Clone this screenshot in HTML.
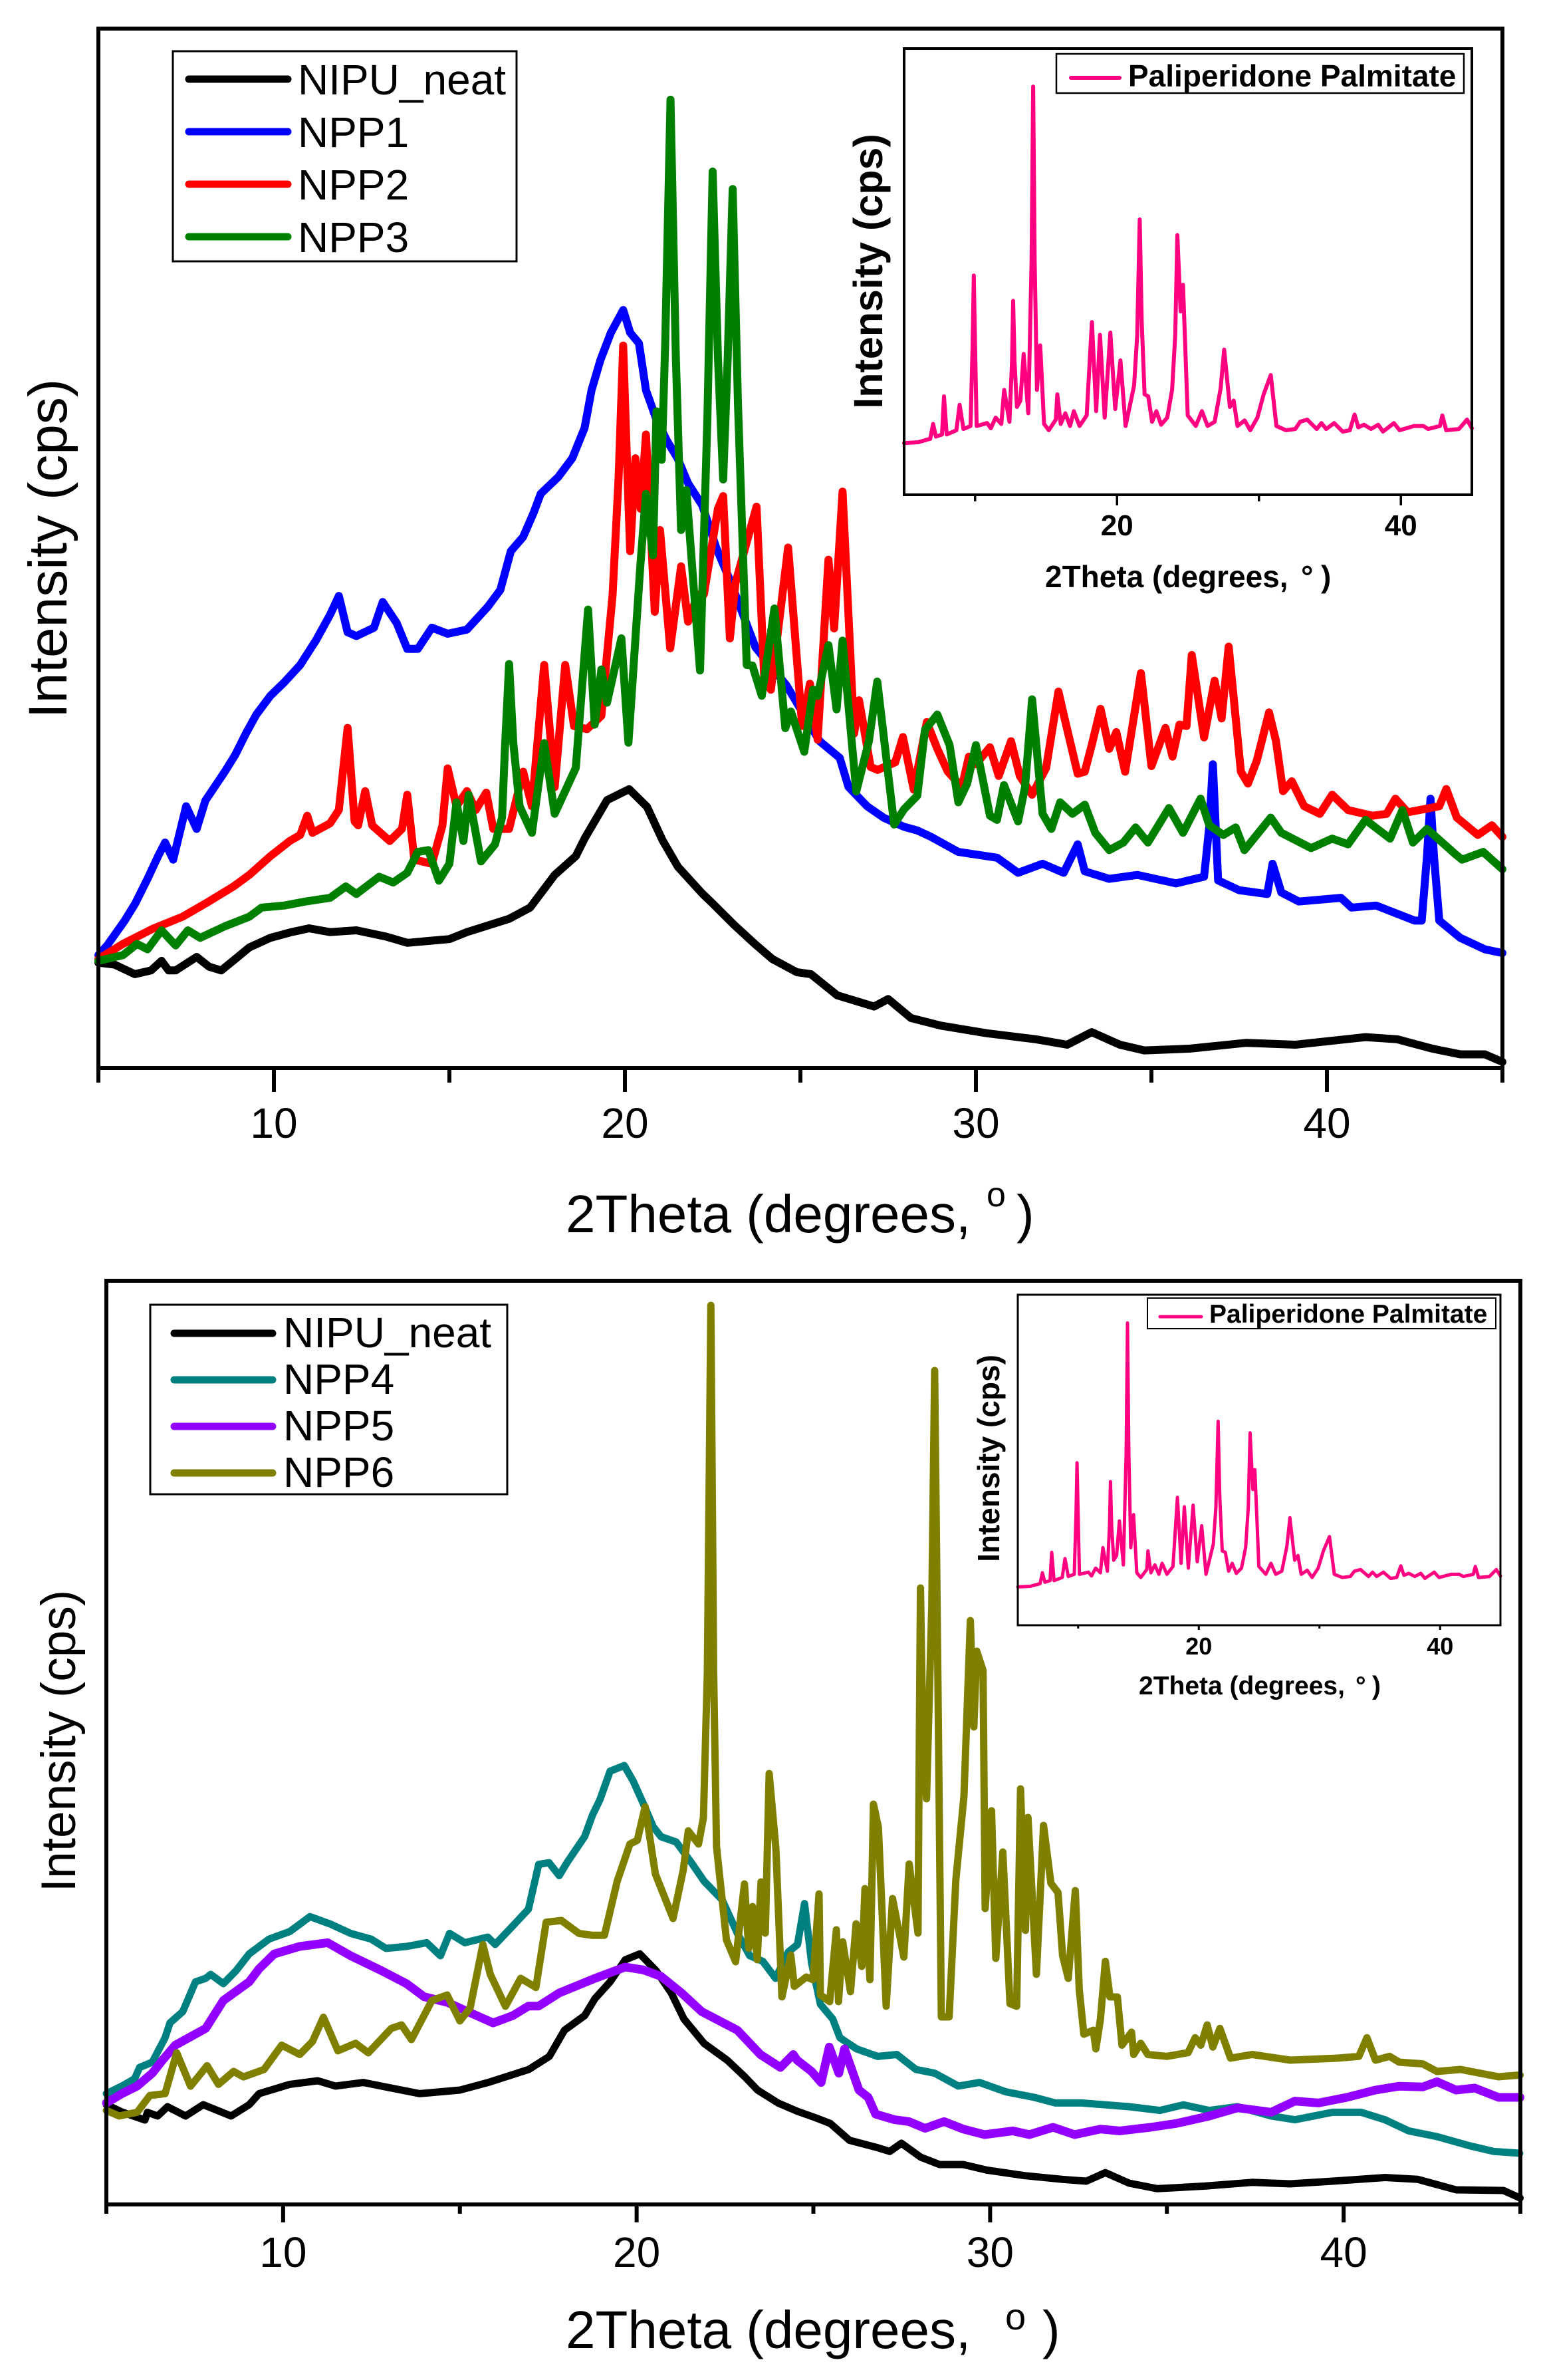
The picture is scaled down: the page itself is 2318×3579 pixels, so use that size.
<!DOCTYPE html>
<html lang="en">
<head>
<meta charset="utf-8">
<title>XRD patterns of NIPU composites</title>
<style>
html,body{margin:0;padding:0;background:#fff;width:2318px;height:3579px;overflow:hidden}
svg{display:block}
text{font-family:"Liberation Sans",sans-serif;fill:#000}
.b{font-weight:bold}
</style>
</head>
<body>
<svg id="fig" xmlns="http://www.w3.org/2000/svg" width="2318" height="3579" viewBox="0 0 2318 3579">
  <rect x="0" y="0" width="2318" height="3579" fill="#fff"/>
  <g id="top-panel"></g>
  <g id="bottom-panel"></g>

  <text transform="translate(100,825) rotate(-90)" text-anchor="middle" font-size="82">Intensity (cps)</text>
  <text x="851" y="1853" font-size="80">2Theta (degrees,<tspan x="1484" y="1814" font-size="52">o</tspan><tspan x="1529" y="1853">)</tspan></text>

  <g>
    <rect x="260" y="77" width="517" height="316" fill="#fff" stroke="#000" stroke-width="3"/>
    <line x1="284" x2="433" y1="119" y2="119" stroke="#000" stroke-width="11" stroke-linecap="round"/>
    <text x="448" y="142" font-size="64">NIPU_neat</text>
    <line x1="284" x2="433" y1="198" y2="198" stroke="#0000ff" stroke-width="11" stroke-linecap="round"/>
    <text x="448" y="221" font-size="64">NPP1</text>
    <line x1="284" x2="433" y1="277" y2="277" stroke="#ff0000" stroke-width="11" stroke-linecap="round"/>
    <text x="448" y="300" font-size="64">NPP2</text>
    <line x1="284" x2="433" y1="356" y2="356" stroke="#008000" stroke-width="11" stroke-linecap="round"/>
    <text x="448" y="379" font-size="64">NPP3</text>
  </g>

  <text class="b" transform="translate(1327,408) rotate(-90)" text-anchor="middle" font-size="61">Intensity (cps)</text>
  <text class="b" x="1572" y="883" font-size="46">2Theta (degrees,<tspan x="1957">°</tspan><tspan x="1987">)</tspan></text>
  <g>
    <rect x="1589" y="81" width="613" height="59" fill="#fff" stroke="#000" stroke-width="2.5"/>
    <line x1="1611" x2="1684" y1="117" y2="117" stroke="#ff0080" stroke-width="6" stroke-linecap="round"/>
    <text class="b" x="1697" y="130" font-size="46">Paliperidone Palmitate</text>
  </g>

  <text transform="translate(113,2618) rotate(-90)" text-anchor="middle" font-size="73">Intensity (cps)</text>
  <text x="851" y="3531" font-size="80">2Theta (degrees,<tspan x="1512" y="3503" font-size="56">o</tspan><tspan x="1568" y="3531">)</tspan></text>

  <g>
    <rect x="226" y="1962" width="537" height="285" fill="#fff" stroke="#000" stroke-width="3"/>
    <line x1="262" x2="410" y1="2005" y2="2005" stroke="#000" stroke-width="11" stroke-linecap="round"/>
    <text x="426" y="2026" font-size="64">NIPU_neat</text>
    <line x1="262" x2="410" y1="2075" y2="2075" stroke="#008080" stroke-width="11" stroke-linecap="round"/>
    <text x="426" y="2096" font-size="64">NPP4</text>
    <line x1="262" x2="410" y1="2145" y2="2145" stroke="#9400ff" stroke-width="11" stroke-linecap="round"/>
    <text x="426" y="2166" font-size="64">NPP5</text>
    <line x1="262" x2="410" y1="2215" y2="2215" stroke="#808000" stroke-width="11" stroke-linecap="round"/>
    <text x="426" y="2236" font-size="64">NPP6</text>
  </g>

  <text class="b" transform="translate(1503,2193) rotate(-90)" text-anchor="middle" font-size="46">Intensity (cps)</text>
  <text class="b" x="1713" y="2548" font-size="39">2Theta (degrees,<tspan x="2039">°</tspan><tspan x="2064">)</tspan></text>
  <g>
    <rect x="1726" y="1952" width="524" height="46" fill="#fff" stroke="#000" stroke-width="2"/>
    <line x1="1745" x2="1807" y1="1980" y2="1980" stroke="#ff0080" stroke-width="5" stroke-linecap="round"/>
    <text class="b" x="1819" y="1989" font-size="39">Paliperidone Palmitate</text>
  </g>
</svg>

<script>
// ---------- shared axis data ----------
const mainMajorTicks = [10, 20, 30, 40];
const mainMinorTicks = [5, 15, 25, 35, 45];
const insetMajorTicks = [20, 40];
const insetMinorTicks = [10, 30];
const mainTickLabels = ['10', '20', '30', '40'];
const insetTickLabels = ['20', '40'];

// ---------- top panel: intensity in arbitrary cps ----------
const topNipuTheta = [5,5.46,6.04,6.5,6.8,7,7.2,7.8,8.15,8.5, 8.9,9.3,9.9,10.5,11,11.6,12.35,13.2,13.8,15, 15.5,16.7,17.3,18,18.6,18.86,19.49,20.12,20.63,21.07, 21.51,22.2,22.5,23.1,23.7,24.2,24.9,25.3,26.05,27.1, 27.5,28.15,29,30.3,31.7,32.6,33.3,34.1,34.8,36.1, 37.7,39.1,41.1,42,43,43.8,44.5,45];
const topNipuValues = [69.6,68.3,62,64.5,70.8,64.5,64.5,73.4,67,64.5, 72,79.7,86,89.8,92.3,89.8,91,86.8,82.7,85.2, 89.8,98.6,106,127.6,140,152,177,184.3,172.6,150.6, 133,115.4,108.7,94.8,82,72,63.3,62,48,40.6, 45.6,33,28,23,19,15.4,23.7,15.4,11.6,12.8, 16.6,15.4,20.4,19,12.8,9,9,4];

const npp1Theta = [5,5.25,5.75,6.05,6.4,6.7,6.9,7.13,7.5,7.8, 8.05,8.6,8.9,9.2,9.5,9.9,10.3,10.75,11.2,11.6, 11.85,12.1,12.35,12.85,13.1,13.5,13.8,14.1,14.5,14.95, 15.5,16.1,16.45,16.75,17.1,17.4,17.6,18.1,18.5,18.85, 19.05,19.3,19.6,19.95,20.15,20.4,20.6,20.9,21.2,21.5, 21.8,22.2,22.6,23,23.72,24.6,25.55,26.12,26.37,26.9, 27.38,27.95,28.33,28.7,29.5,30.6,31.2,31.9,32.5,32.9, 33.1,33.8,34.6,35.7,36.5,36.65,36.75,36.83,36.9,37.5, 38.3,38.45,38.7,39.2,40.4,40.7,41.4,42.5,42.7,42.85, 42.95,43.05,43.2,43.8,44.5,45];
const npp1Values = [74.6,81,97.4,108.7,125,140,149,137.7,173,158, 176.8,195.8,207,221,233.6,246,255,266.4,282.7,299.6, 312,288,285.5,291,308,294,277,277,291,287, 289.8,305,316,341.6,351,367,379.5,390.6,403,423, 448,467.7,486,501,486,479,448,428.5,414.5,403, 386.5,372,344,322,278,253,216,205,185.8,173, 165.3,159.4,157,153,142.8,139,129,135,129,147.8, 130,125,127.6,122,126.4,160,200.8,160,124,117.5, 115,135,116,110,112.5,106,107.4,97.4,97.4,140, 178,140,97.4,86,78.4,76];

const npp2Theta = [5,5.7,6.55,7.4,8.05,8.85,9.3,9.9,10.45,10.75, 10.95,11.1,11.6,11.85,12.1,12.3,12.4,12.6,12.8,13.3, 13.65,13.8,14,14.5,14.8,14.95,15.2,15.5,15.75,16.05, 16.25,16.7,17.1,17.35,17.7,18,18.3,18.55,18.92,19.33, 19.65,19.82,19.95,20.06,20.15,20.3,20.45,20.6,20.85,21, 21.29,21.6,21.8,22.08,22.25,22.65,22.8,22.99,23.15,23.75, 23.97,24.16,24.65,25.05,25.27,25.49,25.8,25.96,26.2,26.53, 26.67,27,27.2,27.7,27.92,28.23,28.6,28.9,29.2,29.6, 29.8,30,30.4,30.65,31,31.25,31.6,32,32.35,32.5, 32.9,33.1,33.3,33.55,33.8,34,34.25,34.7,35,35.4, 35.6,35.8,36,36.15,36.5,36.8,37,37.2,37.55,37.75, 38,38.35,38.55,38.75,39,39.35,39.8,40.15,40.6,41.3, 41.7,41.95,42.3,43.2,43.4,43.7,44.3,44.7,45];
const npp2Values = [72,82,92,100,108.7,120,127.6,140,150,154, 166.7,155.4,161.7,170.5,224.8,163,160.4,183,160.4,150, 158,180.6,137.7,135,160,198,173,183,170.5,182, 158,158,195.8,173,266.4,185.6,266.4,226,224,232.7, 313,390,477.5,400,341.6,403,369.6,418.7,301.5,355.6, 277.4,331.6,295,313,313,369.6,378,283.9,320.6,371, 257.6,250,344,226,254,217,336,290.5,381,221, 243,199,197,202,218.7,184,228.6,211,195.8,185.7, 205.8,200.8,212,193,216,193,180.6,198.3,248.8,233.6, 194.5,195.8,213.4,237.4,211,222,195.8,261,199.5,224.8, 205.8,227,226,273,218.5,256,231,278.5,195.8,188, 203,235,216,183,189.5,173,168,180.6,170.5,166.7, 168,178,169,173,184.4,165.5,154,160.4,152.8];

const npp3Theta = [5,5.7,6.1,6.4,6.8,7.2,7.55,7.9,8.6,9.3, 9.65,10.3,10.9,11.6,12.05,12.35,13,13.4,13.8,14.1, 14.4,14.7,15,15.2,15.4,15.55,15.9,16.3,16.5,16.58, 16.7,16.82,17,17.35,17.7,18,18.6,18.95,19.14,19.33, 19.49,19.9,20.1,20.44,20.6,20.8,20.9,21.05,21.15,21.3, 21.45,21.6,21.75,22.14,22.35,22.5,22.65,22.8,22.93,23.07, 23.22,23.47,23.63,23.9,24.26,24.57,24.73,25.11,25.36,25.49, 25.8,26.03,26.2,26.59,26.95,27.19,27.67,27.95,28.33,28.55, 28.9,29.25,29.5,29.75,30,30.4,30.6,30.8,31.2,31.4, 31.6,31.9,32.15,32.4,32.75,33.1,33.4,33.8,34.2,34.55, 34.9,35.5,35.9,36.4,36.65,37.05,37.4,37.65,38.4,38.7, 39.55,40.15,40.6,41.1,41.8,42.15,42.45,42.85,43.65,43.85, 44.45,45];
const npp3Values = [70.8,74.6,82,78.4,91,81,91,86,93.6,100, 106,107.4,110,112.5,120,115,126.4,122.6,129,142.8, 144,123.8,135,175.6,150,180.6,136.5,147.8,165.5,210, 267,215,173,155.4,214.7,168,198.3,303,227,263.4, 241.5,284,215,332,379.5,338.8,434,402,480,640, 470,355.6,382,262.7,430,592.5,470,389,470,581, 440,266.4,266,246,303.7,224.6,235.6,209,250,245.9, 279.5,237,282.5,182.8,216,255.4,160.9,171,180,223.5, 233.6,213.4,175.6,188,213.4,166.7,164,187,163,185.7, 243.7,168,158,175.6,168,174,155.4,144,149,159, 149,171.8,155.4,178,160.4,154,159,144,165.5,155.4, 145.3,151.6,147.8,164,151.6,170.5,149,158,141.5,137.7, 142.8,131.4];

// ---------- bottom panel: intensity in arbitrary cps ----------
const botNipuTheta = [5,5.44,6.09,6.16,6.45,6.73,7.24,7.74,8.53,9.04, 9.32,10.19,10.98,11.48,12.27,13.06,13.86,15,15.8,16.95, 17.53,17.96,18.53,18.82,19.25,19.68,20.09,20.55,20.98,21.34, 21.91,22.56,23.06,23.42,24,24.55,25.08,25.48,26.02,26.82, 27.16,27.49,28.03,28.57,29.24,29.9,30.98,32.05,32.72,33.26, 33.93,34.73,36.07,37.41,38.49,39.69,41.17,42.1,43.18,44.52, 44.99];
const botNipuValues = [150,139,127,138.6,133,147,133,150,133,150, 166.6,180.6,186,178,183.4,175,166.6,172,183.4,203, 222.6,262,284,309.5,334.7,368,376.8,351.6,318,278.7, 242,217,192,172,152.6,140,130,121.8,96.5,85.3, 79.7,92,71.3,60,60,51.7,43.3,37.7,35,47.8, 32,23.7,27.6,33.2,31,35,40.5,37.7,22,21, 9.7];

const npp4Theta = [5,5.44,5.8,5.94,6.3,6.66,6.8,7.16,7.52,7.81, 7.95,8.31,8.67,9.04,9.6,10.19,10.76,11.34,11.91,12.49, 12.91,13.49,14.06,14.45,14.71,15.14,15.79,16,16.5,16.94, 17.23,17.52,17.81,18.03,18.53,18.75,18.96,19.25,19.65,19.9, 20.19,20.47,20.69,21.12,21.55,21.91,22.42,22.85,23.2,23.57, 23.93,24.29,24.55,24.75,24.95,25.2,25.55,25.75,26.22,26.82, 27.36,27.9,28.43,29.1,29.7,30.44,31.25,31.85,32.59,33.93, 34.8,35.47,36.2,37,37.95,38.62,39.69,40.49,41.17,41.84, 42.64,43.58,44.25,44.98];
const npp4Values = [166.6,178,189,206,214,250.7,273,290,334.7,340, 346,332,351.6,376.8,399,410.4,432.8,421.6,407.6,399, 385,388,393.6,374,407.6,393.6,402,391,419,444, 511.3,514,494.5,514,553.3,585.5,608.4,651.5,660,637, 602.7,568,553,545,514,486,458,407.6,374,365.6, 340,379.6,390.8,452.5,363,301,278.7,250.7,234,222.6, 225.5,203,197.4,178,183.4,169.4,161,152.6,152.6,147, 141.4,149.8,141.4,147,133,127.4,138.6,138.6,127.4,110.6, 102,88,79.7,77];

const npp5Theta = [5,5.44,5.87,6.3,6.59,6.95,7.81,8.31,9.04,9.32, 9.75,10.47,11.26,11.91,12.78,13.49,13.99,14.64,15.22,15.94, 16.5,16.94,17.23,17.81,18.82,19.68,20.19,20.69,21.27,21.84, 22.85,23.5,24.07,24.43,24.54,24.95,25.22,25.45,25.72,25.88, 26.29,26.55,26.76,27.3,27.7,28.16,28.7,29.24,29.84,30.64, 31.11,31.78,32.39,33.12,33.66,34.53,35.27,36.2,37,37.95, 38.62,39.29,40.09,40.9,41.57,42.24,42.64,43.18,43.71,44.38, 44.99];
const npp5Values = [152.6,166.6,178,197.4,217,239.5,264.7,306.7,334.7,354.4, 376.8,388,393.6,374,351.6,332,312.3,304,290,273, 284,298.3,298.3,318,340,357,352.7,343,318,290, 262,225.5,206,225.5,217,200,183.4,236.7,197.4,233.9, 172,161,135.8,127.4,124.6,114.5,124.6,113.3,105,110.6, 105,116,105,113.3,110.6,116,121.8,133,145.3,138.6, 155.4,152.6,161,172,177.8,176.7,184.5,172,175,161, 161];

const npp6Theta = [5,5.36,5.87,6.23,6.66,6.99,7.38,7.85,8.17,8.6, 8.88,9.46,9.96,10.47,10.83,11.14,11.55,12.05,12.41,13.06, 13.35,13.63,14.21,14.64,15,15.29,15.65,15.86,16.29,16.72, 17.15,17.44,17.87,18.37,18.73,19.09,19.45,19.81,20.02,20.24, 20.53,21.03,21.32,21.46,21.75,21.89,22,22.1,22.18,22.26, 22.54,22.8,23.05,23.17,23.28,23.41,23.52,23.64,23.75,23.94, 24.11,24.36,24.46,24.8,24.99,25.16,25.2,25.46,25.65,25.71, 25.83,26.05,26.21,26.37,26.46,26.6,26.7,26.84,27.06,27.24, 27.56,27.71,27.96,27.99,28.03,28.1,28.2,28.35,28.43,28.52, 28.62,28.84,29.03,29.26,29.44,29.54,29.62,29.8,29.86,30.04, 30.16,30.36,30.56,30.75,30.86,31,31.07,31.31,31.51,31.72, 31.92,32.05,32.21,32.41,32.52,32.65,32.92,32.99,33.12,33.26, 33.39,33.6,33.73,34,34.06,34.26,34.46,35,35.6,35.8, 35.96,36.14,36.3,36.5,36.8,37.41,38.49,39.83,40.43,40.66, 40.9,41.3,41.57,42.24,42.64,43.31,44.38,44.99];
const npp6Values = [141.4,133,138.6,163.8,166.6,228,177.8,208.6,180.6,200, 191.8,203,239.5,225.5,245,281.5,231,242.3,228,264.7, 270,248,306.7,315,276,295.5,390.8,346,298,340, 326.3,424.4,427,407.6,404.8,404.8,486,542,547.7,598, 497,430,503,561.8,542,581.4,800,1352,800,538, 398,365,482,385,448,368,485,408,648,535, 312,375,328,342,338,467,315,305,413,305, 395,320,422,358,475,338,602,567,298,460, 372,512,408,650,927,700,610,900,1254,800, 282,282,488,614,878,718,832,803,445,592, 370,530,302,298,625,412,582,346,570,483, 469,374,340,472,323.5,256,262,234,278.7,365.6, 312,312,239.5,259,225.5,242.3,225.5,222.7,228.3,250.7, 239.5,270,236.7,264.7,220,225.5,217,220,222.7,250.7, 217,222.7,214,211.4,200,203,192,194.6];

// ---------- inset: Paliperidone Palmitate, relative intensity ----------
const palmitateTheta = [5,6,6.84,7.04,7.24,7.67,7.81,8,8.68,8.91, 9.18,9.68,9.82,9.91,10,10.11,10.85,11.11,11.45,11.85, 12.05,12.42,12.6,12.68,12.78,12.95,13.19,13.42,13.75,13.98, 14.09,14.2,14.36,14.59,14.86,15.19,15.69,15.79,16.03,16.36, 16.69,16.96,17.36,17.86,18.23,18.53,18.8,19.13,19.53,19.87, 20.24,20.6,21.2,21.42,21.6,21.74,21.94,22.2,22.47,22.77, 23.11,23.54,23.88,24.1,24.25,24.48,24.65,24.98,25.55,25.98, 26.38,26.88,27.3,27.55,27.95,28.22,28.49,28.99,29.39,29.89, 30.33,30.83,31.23,31.9,32.56,32.9,33.4,34.07,34.4,34.74, 35.3,35.9,36.4,36.74,37,37.4,37.9,38.4,38.74,39.51, 39.91,40.92,41.59,41.92,42.75,42.92,43.19,44.09,44.66,45];
const palmitateValues = [77.8,79,84.2,106.5,87.4,90.6,148,90.6,97,135.3, 98.9,103.4,220,329.8,220,103.4,107.8,100,116,106.5, 157.6,109.7,200,291.6,200,132,141.6,211.8,122.5,350, 613.8,350,157.6,224.6,106.5,97,113,151,106.5,122.5, 103.4,125.7,103.4,119.3,259.7,125.7,240.5,116,243.7,128.9, 202,103.4,164,240,414,260,151,148,109.7,125.7, 105.3,116,157.6,240,390.5,275.6,315.8,119.3,103.4,125.7, 103.4,109.7,160,218.2,132,141.6,103.4,111.7,97,116, 151,180,103.4,97,98.9,109.7,113,98.9,107.8,98.9, 107.8,95,97,120.6,101.4,105.3,98.9,105.3,95,107.8, 97,103.4,103.4,98.9,103.4,119.3,97,98.9,113,100];

// ---------- drawing ----------
const NS = 'http://www.w3.org/2000/svg';

function makeLinearX(xMinPx, xMaxPx) {
  return function (t) { return xMinPx + (t - 5) * (xMaxPx - xMinPx) / 40; };
}
function makeLinearY(bottomPx, topPx, maxValue) {
  return function (v) { return bottomPx - v * (bottomPx - topPx) / maxValue; };
}

function createFrame(parent, left, top, right, bottom, sw, name) {
  const el = document.createElementNS(NS, 'rect');
  el.setAttribute('x', left);
  el.setAttribute('y', top);
  el.setAttribute('width', right - left);
  el.setAttribute('height', bottom - top);
  el.setAttribute('fill', 'none');
  el.setAttribute('stroke', '#000');
  el.setAttribute('stroke-width', sw);
  
  
  parent.appendChild(el);
}

function createTick(parent, x, y1, y2, sw, name) {
  const el = document.createElementNS(NS, 'line');
  el.setAttribute('x1', x);
  el.setAttribute('x2', x);
  el.setAttribute('y1', y1);
  el.setAttribute('y2', y2);
  el.setAttribute('stroke', '#000');
  el.setAttribute('stroke-width', sw);
  
  
  parent.appendChild(el);
}

function createTickLabel(parent, x, y, size, bold, content, name) {
  const el = document.createElementNS(NS, 'text');
  el.setAttribute('x', x);
  el.setAttribute('y', y);
  el.setAttribute('font-size', size);
  el.setAttribute('text-anchor', 'middle');
  if (bold) { el.setAttribute('font-weight', 'bold'); }
  el.textContent = content;
  
  
  parent.appendChild(el);
}

function createSeries(parent, thetas, values, xFn, yFn, color, width, name) {
  const el = document.createElementNS(NS, 'polyline');
  const pts = thetas.map(function (t, i) {
    return xFn(t).toFixed(1) + ',' + yFn(values[i]).toFixed(1);
  });
  el.setAttribute('points', pts.join(' '));
  el.setAttribute('fill', 'none');
  el.setAttribute('stroke', color);
  el.setAttribute('stroke-width', width);
  el.setAttribute('stroke-linejoin', 'round');
  el.setAttribute('stroke-linecap', 'round');
  
  
  parent.appendChild(el);
}

function drawAxes(parent, xFn, box, tickStyle, majors, minors, labels, prefix) {
  majors.forEach(function (t, i) {
    createTick(parent, xFn(t), box.bottom, box.bottom + tickStyle.major, tickStyle.width, prefix + '-major-tick-' + t);
    createTickLabel(parent, xFn(t), tickStyle.labelY, tickStyle.labelSize, tickStyle.bold, labels[i], prefix + '-tick-label-' + t);
  });
  minors.forEach(function (t) {
    createTick(parent, xFn(t), box.bottom, box.bottom + tickStyle.minor, tickStyle.width, prefix + '-minor-tick-' + t);
  });
  createFrame(parent, box.left, box.top, box.right, box.bottom, tickStyle.frame, prefix + '-frame');
}

const topG = document.getElementById('top-panel');
const botG = document.getElementById('bottom-panel');

// Top main plot
const topBox = { left: 148, right: 2260, top: 43, bottom: 1606 };
const topX = makeLinearX(topBox.left, topBox.right);
const topY = makeLinearY(topBox.bottom, topBox.top, 687);
createSeries(topG, topNipuTheta, topNipuValues, topX, topY, '#000000', 12, 'series-nipu-neat-top');
createSeries(topG, npp1Theta, npp1Values, topX, topY, '#0000ff', 12, 'series-npp1');
createSeries(topG, npp2Theta, npp2Values, topX, topY, '#ff0000', 12, 'series-npp2');
createSeries(topG, npp3Theta, npp3Values, topX, topY, '#008000', 12, 'series-npp3');
drawAxes(topG, topX, topBox, { major: 36, minor: 22, width: 6, frame: 6, labelY: 1711, labelSize: 64, bold: false }, mainMajorTicks, mainMinorTicks, mainTickLabels, 'top');

// Top inset
const topInsetBox = { left: 1360, right: 2214, top: 73, bottom: 744 };
const topInsetX = makeLinearX(topInsetBox.left, topInsetBox.right);
const topInsetY = makeLinearY(topInsetBox.bottom, topInsetBox.top, 671);
createSeries(topG, palmitateTheta, palmitateValues, topInsetX, topInsetY, '#ff0080', 6, 'series-paliperidone-palmitate-top');
drawAxes(topG, topInsetX, topInsetBox, { major: 16, minor: 10, width: 3.5, frame: 4, labelY: 805, labelSize: 44, bold: true }, insetMajorTicks, insetMinorTicks, insetTickLabels, 'top-inset');

// Bottom main plot
const botBox = { left: 160, right: 2287, top: 1926, bottom: 3315 };
const botX = makeLinearX(botBox.left, botBox.right);
const botY = makeLinearY(botBox.bottom, botBox.top, 1389);
createSeries(botG, botNipuTheta, botNipuValues, botX, botY, '#000000', 11, 'series-nipu-neat-bottom');
createSeries(botG, npp4Theta, npp4Values, botX, botY, '#008080', 11, 'series-npp4');
createSeries(botG, npp5Theta, npp5Values, botX, botY, '#9400ff', 13, 'series-npp5');
createSeries(botG, npp6Theta, npp6Values, botX, botY, '#808000', 11, 'series-npp6');
drawAxes(botG, botX, botBox, { major: 27, minor: 14, width: 6, frame: 6, labelY: 3409, labelSize: 64, bold: false }, mainMajorTicks, mainMinorTicks, mainTickLabels, 'bottom');

// Bottom inset
const botInsetBox = { left: 1531, right: 2257, top: 1947, bottom: 2444 };
const botInsetX = makeLinearX(botInsetBox.left, botInsetBox.right);
const botInsetY = makeLinearY(botInsetBox.bottom, botInsetBox.top, 671);
createSeries(botG, palmitateTheta, palmitateValues, botInsetX, botInsetY, '#ff0080', 5, 'series-paliperidone-palmitate-bottom');
drawAxes(botG, botInsetX, botInsetBox, { major: 7, minor: 5, width: 3, frame: 3, labelY: 2488, labelSize: 36, bold: true }, insetMajorTicks, insetMinorTicks, insetTickLabels, 'bottom-inset');
</script>
</body>
</html>
